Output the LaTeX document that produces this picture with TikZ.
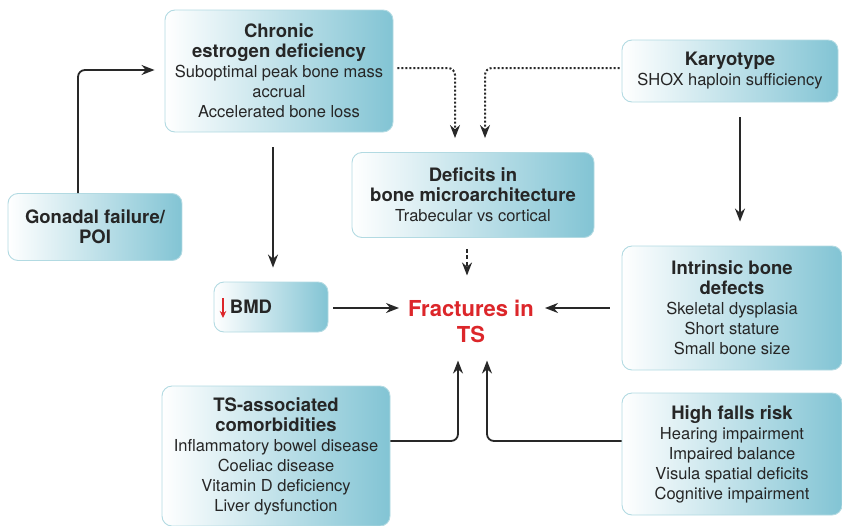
\documentclass[tikz,border=0pt]{standalone}
\usepackage{fontspec}
\setmainfont{TeX Gyre Heros}
\usetikzlibrary{arrows.meta,calc}
\definecolor{tealR}{RGB}{130,196,212}
\definecolor{edgeC}{RGB}{178,218,226}
\definecolor{txt}{RGB}{38,38,38}
\definecolor{fred}{RGB}{220,38,42}
\definecolor{arr}{RGB}{40,40,40}
\newcommand\hdf{\fontsize{18.5}{20}\selectfont\bfseries}
\tikzset{
  box/.style={draw=edgeC, line width=0.9pt, rounded corners=10pt,
    left color=white, middle color=white!88!tealR, right color=tealR,
    align=center, text=txt, inner sep=0pt,
    font=\fontsize{16.5}{20}\selectfont},
  conn/.style={draw=arr, line width=1.8pt, rounded corners=7pt,
    -{Stealth[length=13pt,width=10pt]}},
  dotconn/.style={conn, line width=2pt, dotted},
  dashconn/.style={conn, dashed, dash pattern=on 4pt off 2.5pt}
}
\begin{document}
\begin{tikzpicture}[x=1pt,y=-1pt]
\useasboundingbox (0,0) rectangle (842,525);
\node[box, minimum width=228, minimum height=122] (chronic) at (279,71)
  {{\hdf Chronic}\\{\hdf estrogen deficiency}\\Suboptimal peak bone mass\\accrual\\Accelerated bone loss};
\node[box, minimum width=216, minimum height=62] (karyo) at (730,71)
  {{\hdf Karyotype}\\SHOX haploin sufficiency};
\node[box, minimum width=242, minimum height=85] (deficits) at (473,195)
  {{\hdf Deficits in}\\{\hdf bone microarchitecture}\\Trabecular vs cortical};
\node[box, minimum width=174, minimum height=67] (gonadal) at (95,227)
  {{\hdf Gonadal failure/}\\{\hdf POI}};
\node[box, minimum width=114, minimum height=50] (bmd) at (271,307)
  {{\hdf BMD}\rule{40pt}{0pt}};
\node[box, minimum width=220, minimum height=124] (intr) at (732,308)
  {{\hdf Intrinsic bone}\\{\hdf defects}\\Skeletal dysplasia\\Short stature\\Small bone size};
\node[box, minimum width=228, minimum height=140] (comorb) at (276,456)
  {{\hdf TS-associated}\\{\hdf comorbidities}\\Inflammatory bowel disease\\Coeliac disease\\Vitamin D deficiency\\Liver dysfunction};
\node[box, minimum width=220, minimum height=122] (falls) at (732,454)
  {{\hdf High falls risk}\\Hearing impairment\\Impaired balance\\Visula spatial deficits\\Cognitive impairment};
\node[align=center, text=fred, inner sep=0pt, font=\fontsize{22}{26}\selectfont\bfseries] (frac) at (471,321)
  {Fractures in\\TS};
% red arrow in BMD
\draw[fred, line width=1.4pt, -{Stealth[length=7pt,width=6.5pt]}] ($(bmd.center)+(-48,-9)$) -- ++(0,20);
% helper coordinates
\coordinate (bmdtop) at ($(bmd.north)+(0,-14)$);
\coordinate (intop) at ($(intr.north)+(0,-24)$);
\coordinate (fractop) at ($(frac.north)+(0,-24)$);
\coordinate (fracW) at ($(frac.west)+(-9,0)$);
\coordinate (fracE) at ($(frac.east)+(11,0)$);
% connectors
\draw[conn] ($(gonadal.north)+(-17,0)$) |- ($(chronic.west)+(-10,-1)$);
\draw[conn] ($(chronic.south)+(-6,15)$) coordinate (c1) -- (c1 |- bmdtop);
\draw[dotconn] ($(chronic.east)+(4,-3)$) -| ($(deficits.north)+(-18,-14)$);
\draw[dotconn] ($(karyo.west)+(-2,-3)$) -| ($(deficits.north)+(12,-14)$);
\draw[conn] ($(karyo.south)+(10,15)$) coordinate (k1) -- (k1 |- intop);
\draw[dashconn] ($(deficits.south)+(-6,11)$) coordinate (d1) -- (d1 |- fractop);
\draw[conn] ($(bmd.east)+(5,1)$) coordinate (b1) -- (b1 -| fracW);
\draw[conn] ($(intr.west)+(-12,0)$) coordinate (i1) -- (i1 -| fracE);
\draw[conn] ($(comorb.east)+(0,-15)$) -| ($(frac.south)+(-13,18)$);
\draw[conn] ($(falls.west)+(0,-13)$) -| ($(frac.south)+(16,18)$);
\end{tikzpicture}
\end{document}
